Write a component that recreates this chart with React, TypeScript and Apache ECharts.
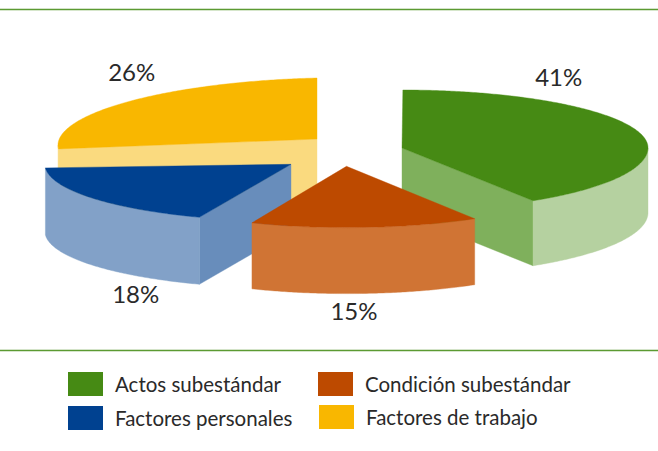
import React, { useEffect, useRef } from "react";
import * as echarts from "echarts";

const categories = ["Actos subestándar", "Condición subestándar", "Factores personales", "Factores de trabajo"];
const values = [41, 15, 18, 26];

const topColors = ["#468A14", "#BD4A00", "#004190", "#F9B700"];
const wallColors = ["#B5D1A0", "#D07434", "#82A1C8", "#FADA7F"];
const cutColors = ["#7FB05C", "#D07434", "#688DBB", "#FADA7F"];
const drawOrder = [1, 3, 2, 0];

const slices = [
  { cx: 402, cy: 148, rx: 246, ryBack: 58, ryFront: 62.5, depth: 65, skewX: -0.015, skewY: 0 },
  { cx: 346.5, cy: 166.3, rx: 246, ryBack: 61, ryFront: 61.3, depth: 66, skewX: -0.07, skewY: 0.005 },
  { cx: 291, cy: 164.3, rx: 246, ryBack: 57, ryFront: 57, depth: 67, skewX: -0.02, skewY: 0 },
  { cx: 317, cy: 139, rx: 259, ryBack: 61, ryFront: 61, depth: 65, skewX: 0, skewY: -0.0235 },
];
const labelPos = [[558.7, 76.2], [354, 310.8], [135.7, 293], [131.7, 71]];
const legendPos = [
  { left: 68, top: 372, pad: 4 },
  { left: 318, top: 372, pad: 0 },
  { left: 68, top: 406, pad: 6 },
  { left: 319, top: 405, pad: 2 },
];

const total = values.reduce((a, b) => a + b, 0);
const starts = values.map((_, i) => values.slice(0, i).reduce((a, b) => a + b, 0) / total * Math.PI * 2);
const rad = (v: number) => (v / total) * Math.PI * 2;

function rim(i: number, t: number, drop = 0): number[] {
  const s = slices[i];
  const x = s.rx * Math.sin(t);
  const y = -Math.cos(t) * (Math.cos(t) > 0 ? s.ryBack : s.ryFront);
  return [s.cx + x + s.skewX * y, s.cy + y + s.skewY * x + drop];
}
function arc(i: number, a: number, b: number, drop = 0): number[][] {
  const pts: number[][] = [];
  const n = Math.max(2, Math.ceil((b - a) / 0.01));
  for (let k = 0; k <= n; k++) pts.push(rim(i, a + ((b - a) * k) / n, drop));
  return pts;
}

function makeRender(i: number) {
  return (_p: any, api: any) => {
    const s = slices[i];
    const a = starts[i];
    const b = a + rad(api.value(0));
    const apex = [s.cx, s.cy];
    const apexLow = [s.cx, s.cy + s.depth];
    const children: any[] = [];
    const poly = (points: number[][], fill: string) =>
      children.push({ type: "polygon", shape: { points }, style: { fill, stroke: fill, lineWidth: 0.4 }, silent: true });
    if (Math.sin(a) < -1e-6) {
      const p = rim(i, a), q = rim(i, a, s.depth);
      poly([apex, p, q, apexLow], cutColors[i]);
    }
    if (Math.sin(b) > 1e-6) {
      const p = rim(i, b), q = rim(i, b, s.depth);
      poly([apex, p, q, apexLow], cutColors[i]);
    }
    const wa = Math.max(a, Math.PI / 2);
    const wb = Math.min(b, (Math.PI * 3) / 2);
    if (wb > wa) {
      poly([...arc(i, wa, wb), ...arc(i, wa, wb, s.depth).reverse()], wallColors[i]);
    }
    poly([apex, ...arc(i, a, b)], topColors[i]);
    children.push({
      type: "text",
      silent: true,
      style: {
        text: `${api.value(0)}%`,
        x: labelPos[i][0],
        y: labelPos[i][1],
        align: "center",
        verticalAlign: "middle",
        fill: "#2A2A2A",
        font: "24px Lato",
      },
    });
    return { type: "group", children };
  };
}

export default function App() {
  const ref = useRef<HTMLDivElement>(null);
  useEffect(() => {
    const chart = echarts.init(ref.current!, undefined, { renderer: "svg" });
    chart.setOption({
      animation: false,
      backgroundColor: "#ffffff",
      color: topColors,
      legend: categories.map((name, i) => ({
        data: [{ name, icon: "rect" }],
        left: legendPos[i].left,
        top: legendPos[i].top,
        padding: 0,
        itemWidth: 35,
        itemHeight: 24,
        selectedMode: false,
        textStyle: {
          fontFamily: "Lato",
          fontSize: 20.5,
          color: "#2A2A2A",
          padding: [legendPos[i].pad, 0, 0, 7],
        },
      })),
      series: categories.map((name, i) => ({
        type: "custom",
        name,
        coordinateSystem: "none",
        silent: true,
        z: 2 + drawOrder[i],
        itemStyle: { color: topColors[i] },
        data: [[values[i]]],
        renderItem: makeRender(i),
      })),
      graphic: [
        { type: "rect", shape: { x: 0, y: 8, width: 658, height: 1 }, style: { fill: "#D3E3C8" } },
        { type: "rect", shape: { x: 0, y: 9, width: 658, height: 1.3 }, style: { fill: "#5B9A32" } },
        { type: "rect", shape: { x: 0, y: 349, width: 658, height: 1 }, style: { fill: "#D3E3C8" } },
        { type: "rect", shape: { x: 0, y: 350, width: 658, height: 1.3 }, style: { fill: "#5B9A32" } },
      ],
    });
    return () => chart.dispose();
  }, []);
  return <div ref={ref} style={{ position: "fixed", left: 0, top: 0, width: 658, height: 451 }} />;
}
